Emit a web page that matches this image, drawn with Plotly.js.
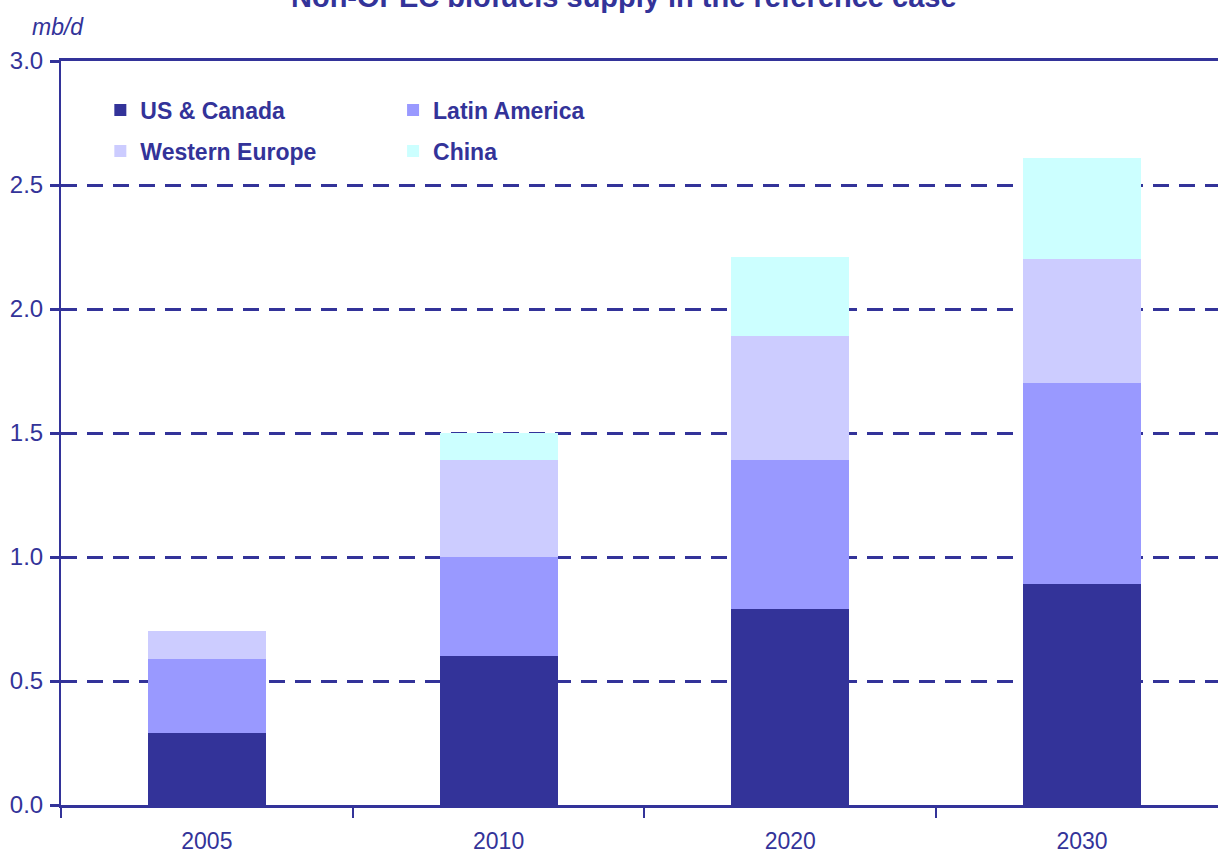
<!DOCTYPE html>
<html>
<head>
<meta charset="utf-8">
<script src="https://cdn.plot.ly/plotly-3.0.1.min.js"></script>
<style>html,body{margin:0;padding:0;background:#fff;}#chart{width:1218px;height:853px;}</style>
</head>
<body>
<div id="chart"></div>
<script>
const years = ['2005', '2010', '2020', '2030'];
const usCanada = [0.29, 0.60, 0.79, 0.89];
const latinAmerica = [0.30, 0.40, 0.60, 0.81];
const westernEurope = [0.11, 0.39, 0.50, 0.50];
const china = [0.00, 0.11, 0.32, 0.41];
const seriesNames = ['US & Canada', 'Latin America', 'Western Europe', 'China'];
const seriesColors = ['#333399', '#9999FF', '#CCCCFF', '#CCFFFF'];
const yTicks = [0, 0.5, 1.0, 1.5, 2.0, 2.5, 3.0];

const INK = '#333399';
const SANS = '"Liberation Sans", Arial, sans-serif';

const seriesData = [usCanada, latinAmerica, westernEurope, china];
const legendOf = ['legend', 'legend2', 'legend', 'legend2'];
const traces = seriesData.map((vals, i) => ({
  type: 'bar',
  x: years,
  y: vals,
  name: seriesNames[i],
  legendgroup: 'g' + i,
  marker: {color: seriesColors[i], line: {width: 0}},
  legend: legendOf[i],
  hoverinfo: 'skip'
}));

const legendFont = {family: SANS, size: 23, color: INK, weight: 'bold'};
const legendBase = {
  y: 0.963, xanchor: 'left', yanchor: 'top',
  orientation: 'v', traceorder: 'grouped',
  bgcolor: 'rgba(0,0,0,0)', borderwidth: 0,
  font: legendFont, itemwidth: 30, tracegroupgap: 8
};
const layout = {
  width: 1218,
  height: 853,
  margin: {l: 61, r: 0, t: 61, b: 48, pad: 0},
  paper_bgcolor: '#ffffff',
  plot_bgcolor: '#ffffff',
  barmode: 'stack',
  bargap: 0.595,
  showlegend: true,
  legend: Object.assign({x: 0.034}, legendBase),
  legend2: Object.assign({x: 0.287}, legendBase),
  xaxis: {
    type: 'category',
    range: [-0.5, 3.466],
    tickson: 'boundaries',
    ticks: 'outside', ticklen: 10, tickwidth: 2, tickcolor: INK,
    showline: true, linecolor: INK, linewidth: 3, mirror: true,
    showgrid: false, zeroline: false,
    tickfont: {family: SANS, size: 23, color: INK},
    ticklabelstandoff: 13,
    fixedrange: true
  },
  yaxis: {
    range: [0, 3.0],
    tickvals: yTicks,
    ticktext: yTicks.map(v => v.toFixed(1)),
    ticks: 'outside', ticklen: 9, tickwidth: 3, tickcolor: INK,
    showline: true, linecolor: INK, linewidth: 2,
    showgrid: true, gridcolor: INK, gridwidth: 3, griddash: '16px,10px',
    zeroline: false,
    tickfont: {family: SANS, size: 24, color: INK},
    ticklabelstandoff: 2,
    fixedrange: true
  },
  annotations: [
    {
      text: '<b>Non-OPEC biofuels supply in the reference case</b>',
      xref: 'paper', yref: 'paper', x: 0.487, y: 1.062,
      xanchor: 'center', yanchor: 'bottom', showarrow: false,
      font: {family: SANS, size: 29, color: INK}
    },
    {
      text: '<i>mb/d</i>',
      xref: 'paper', yref: 'paper', x: -0.027, y: 1.025,
      xanchor: 'left', yanchor: 'bottom', showarrow: false,
      font: {family: SANS, size: 23, color: INK}
    }
  ]
};

Plotly.newPlot('chart', traces, layout, {displayModeBar: false, staticPlot: true});
</script>
</body>
</html>
